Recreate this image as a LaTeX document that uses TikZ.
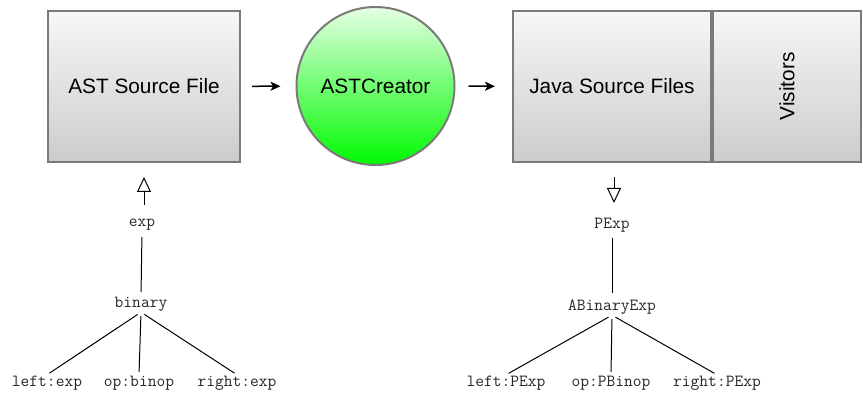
\documentclass[tikz,border=0pt]{standalone}
\usepackage{fontspec}
\setsansfont{Liberation Sans}
\usetikzlibrary{arrows.meta}
\definecolor{edgegray}{RGB}{122,122,122}
\definecolor{boxtop}{RGB}{247,247,247}
\definecolor{boxbot}{RGB}{204,204,204}
\definecolor{greentop}{RGB}{228,255,228}
\definecolor{greenbot}{RGB}{0,250,0}
\begin{document}
\begin{tikzpicture}[x=1pt,y=-1pt,
  boxnode/.style={draw=edgegray, line width=2pt, rectangle, top color=boxtop, bottom color=boxbot,
    minimum height=151pt, inner sep=0pt, font=\sffamily\fontsize{20.8}{24}\selectfont},
  procnode/.style={draw=edgegray, line width=2pt, circle, top color=greentop, bottom color=greenbot,
    minimum size=158pt, inner sep=0pt, font=\sffamily\fontsize{20.8}{24}\selectfont},
  treelabel/.style={inner sep=2pt, text height=9pt, text depth=3pt, text=black!85, font=\ttfamily\fontsize{17}{20}\selectfont},
  flowarrow/.style={line width=1.5pt, -{Stealth[length=10pt, width=9pt, inset=2.5pt]}},
  inherit/.style={line width=1pt, -{Triangle[open, length=15pt, width=14pt]}},
  treeline/.style={line width=1pt}]
\useasboundingbox (0,0) rectangle (863,393);

% top row
\node[boxnode, minimum width=192pt] (ast) at (144,86.5) {AST Source File};
\node[procnode] (creator) at (375.5,86) {ASTCreator};
\node[boxnode, minimum width=198pt] (java) at (612,86.5) {Java Source Files};
\node[boxnode, minimum width=148pt] (visitors) at (787,86.5) {\rotatebox{90}{Visitors}};

\draw[flowarrow, shorten <=11pt, shorten >=15pt] (ast) -- (creator);
\draw[flowarrow, shorten <=13pt, shorten >=17pt] (creator) -- (java);

% left tree
\node[treelabel] (exp) at (142,224) {exp};
\node[treelabel] (binary) at (141,304) {binary};
\node[treelabel] (lexp) at (47,383) {left:exp};
\node[treelabel] (opbin) at (139,383) {op:binop};
\node[treelabel] (rexp) at (237,383) {right:exp};

\coordinate (astfoot) at (144,163);
\coordinate (expfoot) at (144,216);
\draw[inherit, shorten <=11pt, shorten >=14pt] (expfoot) -- (astfoot);
\draw[treeline, shorten <=5pt, shorten >=4pt] (exp.south) -- (binary.north);
\draw[treeline, shorten <=4pt, shorten >=3pt] (binary.south) -- (lexp.north);
\draw[treeline, shorten <=4pt, shorten >=3pt] (binary.south) -- (opbin.north);
\draw[treeline, shorten <=4pt, shorten >=3pt] (binary.south) -- (rexp.north);

% right tree
\node[treelabel] (pexp) at (612,226) {PExp};
\node[treelabel] (abin) at (612,307) {ABinaryExp};
\node[treelabel] (lpexp) at (506,383) {left:PExp};
\node[treelabel] (oppbin) at (611,383) {op:PBinop};
\node[treelabel] (rpexp) at (717,383) {right:PExp};

\coordinate (javafoot) at (614,163);
\coordinate (pexphead) at (614,218);
\draw[inherit, shorten <=14pt, shorten >=15pt] (javafoot) -- (pexphead);
\draw[treeline, shorten <=4pt, shorten >=6pt] (pexp.south) -- (abin.north);
\draw[treeline, shorten <=4pt, shorten >=3pt] (abin.south) -- (lpexp.north);
\draw[treeline, shorten <=4pt, shorten >=3pt] (abin.south) -- (oppbin.north);
\draw[treeline, shorten <=4pt, shorten >=3pt] (abin.south) -- (rpexp.north);
\end{tikzpicture}
\end{document}
